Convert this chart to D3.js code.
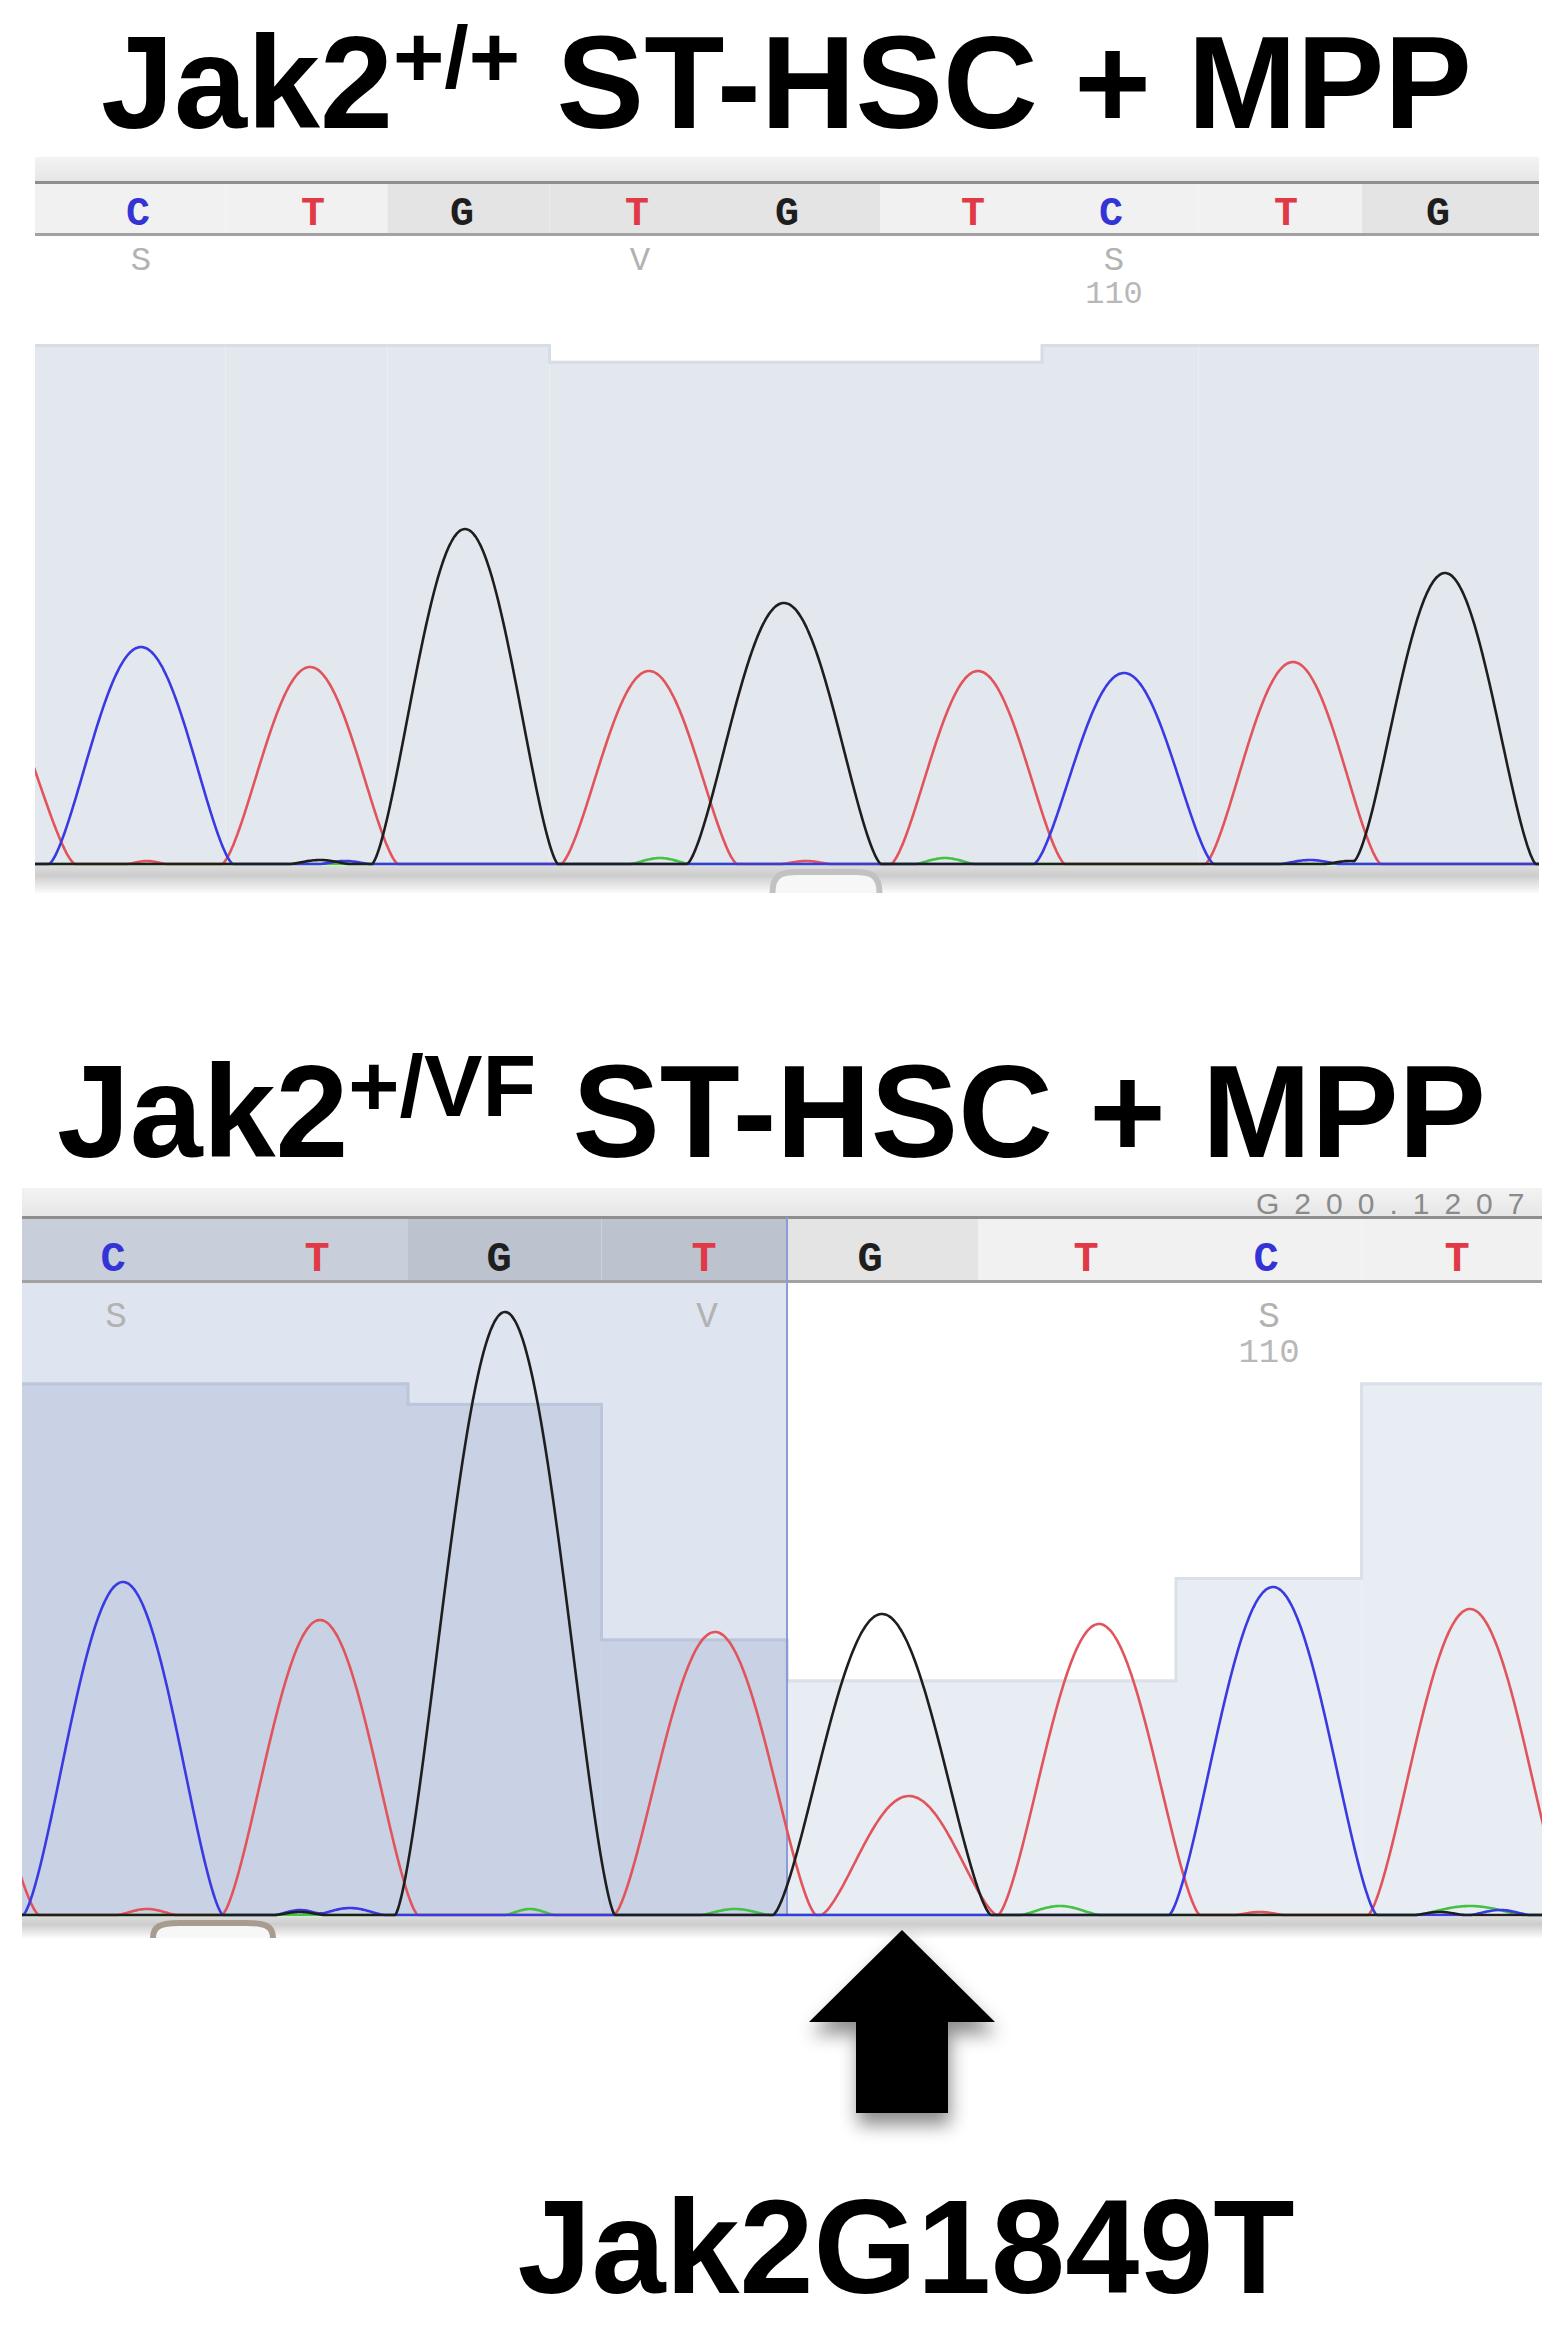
<!DOCTYPE html>
<html>
<head>
<meta charset="utf-8">
<script src="https://cdn.jsdelivr.net/npm/d3@7/dist/d3.min.js"></script>
<style>
html,body{margin:0;padding:0;background:#fff;}
svg{display:block;}
</style>
</head>
<body>
<svg id="chart" width="1542" height="2328" xmlns="http://www.w3.org/2000/svg"></svg>
<script>
// ---------------- DATA ----------------
const titleTopParts = ["Jak2", "+/+", " ST-HSC + MPP"];
const titleBotParts = ["Jak2", "+/VF", " ST-HSC + MPP"];
const mutationLabel = "Jak2G1849T";
const rulerText = "G200.1207";

// Jak2 +/+ trace: base calls, scan positions, ambiguity codes, quality
const topBases   = ["C","T","G","T","G","T","C","T","G"];
const topBaseScan = [138,313,462,637,787,973,1111,1286,1438];
const topAmbig   = ["S","","","V","","","S","",""];
const topNumber  = ["","","","","","","110","",""];
const topQuality = [62,62,62,60,60,60,62,62,62];
// peaks per channel: [scan position, intensity, half-width]
const topPeaksA = [[660,6,30],[945,6,30]];
const topPeaksC = [[141,217,92],[1124,191,90],[345,3,25],[1310,4,30]];
const topPeaksG = [[465,335,93],[784,261,97],[1445,291,91],[320,4,30],[1350,3,25]];
const topPeaksT = [[-17,182,92],[310,197,88],[649,193,88],[978,193,87],[1293,202,88],[147,3,20],[806,3,25]];

// Jak2 +/VF trace
const botBases   = ["C","T","G","T","G","T","C","T"];
const botBaseScan = [113,317,499,704,870,1086,1266,1457];
const botAmbig   = ["S","","","V","","","S",""];
const botNumber  = ["","","","","","","110",""];
const botQuality = [52,52,50,27,23,23,33,52];
const botSelected = [true,true,true,true,false,false,false,false];
const botPeaksA = [[530,6,25],[735,6,35],[1060,9,40],[1470,9,55]];
const botPeaksC = [[123,333,100],[1273,328,104],[300,5,25],[350,7,35],[1500,5,30]];
const botPeaksG = [[505,603,110],[882,301,109],[300,3,25],[1440,3,25]];
const botPeaksT = [[-61,243,100],[320,295,98],[715,283,101],[909,119,88],[1099,291,101],[1470,306,102],[147,6,30],[1260,3,25]];
const mutationScan = 902;

// ---------------- STYLE ----------------
const traceColor  = {A:"#44c244", C:"#3a3ae2", G:"#1e1e1e", T:"#e2545c"};
const letterColor = {A:"#2a9a2a", C:"#3434d6", G:"#1e1e1e", T:"#e03a46"};
const monoFont = "'Liberation Mono', 'Courier New', monospace";
const sansFont = "'Liberation Sans', Arial, Helvetica, sans-serif";
const peakExponent = 1.45;

const svg = d3.select("#chart");
svg.append("rect").attr("width",1542).attr("height",2328).attr("fill","#fff");

const defs = svg.append("defs");
const sg = defs.append("linearGradient").attr("id","stripGrad").attr("x1",0).attr("x2",0).attr("y1",0).attr("y2",1);
sg.append("stop").attr("offset","0%").attr("stop-color","#f3f3f3");
sg.append("stop").attr("offset","100%").attr("stop-color","#e6e6e6");
const bg = defs.append("linearGradient").attr("id","bandGrad").attr("x1",0).attr("x2",0).attr("y1",0).attr("y2",1);
bg.append("stop").attr("offset","0%").attr("stop-color","#dcdcdc");
bg.append("stop").attr("offset","35%").attr("stop-color","#cdcdcd");
bg.append("stop").attr("offset","100%").attr("stop-color","#fbfbfb");
const sh = defs.append("filter").attr("id","shadow").attr("x","-40%").attr("y","-40%").attr("width","180%").attr("height","180%");
sh.append("feDropShadow").attr("dx",2).attr("dy",12).attr("stdDeviation",9).attr("flood-color","#000").attr("flood-opacity",0.45);

const xScan = d3.scaleLinear().domain([0,1542]).range([0,1542]);

function kernel(d, h, w){
  const a = Math.abs(d);
  if (a >= w) return 0;
  return h * Math.pow(Math.cos(Math.PI * a / (2*w)), peakExponent);
}

function drawPanel(L, D, id){
  const g = svg.append("g");
  const x = xScan;
  const yI = d3.scaleLinear().domain([0, L.intMax]).range([L.baseline, L.baseline - L.intMax]);
  const yQ = d3.scaleLinear().domain([0, 62]).range([L.baseline, L.chromTop]);
  const n = D.bases.length;
  const bounds = [L.x0];
  for (let i = 1; i < n; i++) bounds.push(x((D.scan[i-1] + D.scan[i]) / 2));
  bounds.push(L.x1);
  const cells = D.bases.map((b,i) => ({
    b, i, x0: bounds[i], x1: bounds[i+1], cx: x(D.scan[i]), q: D.qual[i],
    sel: D.sel ? D.sel[i] : false, codon: Math.floor((i+1)/3) % 2,
    amb: D.amb[i], num: D.num[i]
  }));

  // header strip
  g.append("rect").attr("x",L.x0).attr("y",L.stripTop).attr("width",L.x1-L.x0).attr("height",L.stripBot-L.stripTop).attr("fill","url(#stripGrad)");
  // base row cells (codon shading)
  g.selectAll("rect.cell").data(cells).join("rect").attr("class","cell")
    .attr("x",c=>c.x0).attr("y",L.stripBot).attr("width",c=>c.x1-c.x0).attr("height",L.rowBot-L.stripBot)
    .attr("fill",c=> c.sel ? (c.codon ? "#bcc3cf" : "#c9cfda") : (c.codon ? "#e4e4e4" : "#f1f1f1"));
  g.append("rect").attr("x",L.x0).attr("y",L.stripBot-1).attr("width",L.x1-L.x0).attr("height",3).attr("fill","#8e8e8e");
  g.append("rect").attr("x",L.x0).attr("y",L.rowBot-1).attr("width",L.x1-L.x0).attr("height",3).attr("fill","#a2a2a2");

  // selection background
  const selCells = cells.filter(c=>c.sel);
  let selEnd = null;
  if (selCells.length){
    selEnd = d3.max(selCells, c=>c.x1);
    g.append("rect").attr("x",L.x0).attr("y",L.rowBot+2).attr("width",selEnd-L.x0).attr("height",L.baseline-L.rowBot-2).attr("fill","#dfe4f1");
  }
  // quality bars
  g.selectAll("rect.qual").data(cells).join("rect").attr("class","qual")
    .attr("x",c=>c.x0).attr("y",c=>yQ(c.q)).attr("width",c=>c.x1-c.x0).attr("height",c=>L.baseline-yQ(c.q))
    .attr("fill",c=> c.sel ? "#c9d2e4" : L.qualFill);
  g.selectAll("rect.qtop").data(cells).join("rect").attr("class","qtop")
    .attr("x",c=>c.x0).attr("y",c=>yQ(c.q)).attr("width",c=>c.x1-c.x0).attr("height",3)
    .attr("fill",c=> c.sel ? "#bcc6da" : L.qualEdge);
  for (let i = 1; i < n; i++){
    const a = yQ(cells[i-1].q), b = yQ(cells[i].q);
    if (Math.abs(a-b) > 1){
      g.append("rect").attr("x",cells[i].x0-1.5).attr("y",Math.min(a,b)).attr("width",3).attr("height",Math.abs(a-b)+3)
        .attr("fill", cells[i-1].sel || cells[i].sel ? "#bcc6da" : L.qualEdge);
    }
  }
  if (selEnd !== null){
    g.append("rect").attr("x",selEnd-1).attr("y",L.stripBot).attr("width",2).attr("height",L.baseline-L.stripBot).attr("fill","#8d9ad8");
  }

  // base letters
  g.selectAll("text.base").data(cells).join("text").attr("class","base")
    .attr("x",c=>c.cx).attr("y",L.letterY).attr("text-anchor","middle")
    .attr("font-family",monoFont).attr("font-weight","bold").attr("font-size",L.letterSize)
    .attr("fill",c=>letterColor[c.b]).text(c=>c.b);
  g.selectAll("text.amb").data(cells.filter(c=>c.amb)).join("text").attr("class","amb")
    .attr("x",c=>c.cx+3).attr("y",L.labelY).attr("text-anchor","middle")
    .attr("font-family",monoFont).attr("font-size",L.labelSize).attr("fill","#b2b2b2").text(c=>c.amb);
  g.selectAll("text.num").data(cells.filter(c=>c.num)).join("text").attr("class","num")
    .attr("x",c=>c.cx+3).attr("y",L.numY).attr("text-anchor","middle")
    .attr("font-family",monoFont).attr("font-size",L.labelSize-2).attr("fill","#b8b8b8").text(c=>c.num);

  // traces
  const clipId = "clip-" + id;
  defs.append("clipPath").attr("id",clipId).append("rect")
    .attr("x",L.x0).attr("y",L.rowBot).attr("width",L.x1-L.x0).attr("height",L.baseline-L.rowBot+3);
  const tg = g.append("g").attr("clip-path",`url(#${clipId})`);
  const line = d3.line().x(p=>x(p[0])).y(p=>yI(p[1])).curve(d3.curveMonotoneX);
  const scans = d3.range(x.invert(L.x0) - 2, x.invert(L.x1) + 3, 1.5);
  ["A","T","C","G"].forEach(ch=>{
    const peaks = D.peaks[ch];
    const pts = scans.map(s => [s, d3.sum(peaks, p => kernel(s - p[0], p[1], p[2]))]);
    tg.append("path").attr("d", line(pts)).attr("fill","none")
      .attr("stroke", traceColor[ch]).attr("stroke-width", 2.6).attr("stroke-linejoin","round");
  });

  // band below baseline + handle
  g.append("rect").attr("x",L.x0).attr("y",L.baseline+2).attr("width",L.x1-L.x0).attr("height",L.bandBot-L.baseline-2).attr("fill","url(#bandGrad)");
  const hx = L.handleX, hw = L.handleW/2, hy0 = L.baseline + 8, hy1 = L.bandBot;
  g.append("path")
    .attr("d",`M${hx-hw},${hy1} C${hx-hw},${hy0+3} ${hx-hw+8},${hy0} ${hx-hw+26},${hy0} L${hx+hw-26},${hy0} C${hx+hw-8},${hy0} ${hx+hw},${hy0+3} ${hx+hw},${hy1}`)
    .attr("fill","#f7f7f7").attr("stroke",L.handleStroke).attr("stroke-width",6);
  return {x, yI};
}

const topLayout = {x0:35, x1:1539, stripTop:157, stripBot:182, rowBot:234, chromTop:344, baseline:864, bandBot:893,
  intMax:520, letterSize:40, letterY:225, labelSize:34, labelY:270, numY:303, handleX:826, handleW:107,
  qualFill:"#e3e7ee", qualEdge:"#d7dce5", handleStroke:"#c2c2c2"};
const botLayout = {x0:22, x1:1542, stripTop:1188, stripBot:1217, rowBot:1281, chromTop:1280, baseline:1915, bandBot:1938,
  intMax:635, letterSize:42, letterY:1271, labelSize:36, labelY:1327, numY:1362, handleX:213, handleW:120,
  qualFill:"#e8ecf3", qualEdge:"#dadfe8", handleStroke:"#a89c90"};

drawPanel(topLayout, {bases:topBases, scan:topBaseScan, amb:topAmbig, num:topNumber, qual:topQuality,
  peaks:{A:topPeaksA, C:topPeaksC, G:topPeaksG, T:topPeaksT}}, "top");

const botScales = drawPanel(botLayout, {bases:botBases, scan:botBaseScan, amb:botAmbig, num:botNumber, qual:botQuality, sel:botSelected,
  peaks:{A:botPeaksA, C:botPeaksC, G:botPeaksG, T:botPeaksT}}, "bot");
// ruler text in the lower header strip (kept small so it stays inside the strip)
svg.append("text").attr("x",1256).attr("y",1213.5)
  .attr("font-family",sansFont).attr("font-size",30).attr("letter-spacing",15)
  .attr("fill","#8a8a8a").text(rulerText);

// ---------------- TITLES ----------------
function drawTitle(parts, xStart, baseY, targetW, size){
  const t = svg.append("text").attr("x",xStart).attr("y",baseY)
    .attr("font-family",sansFont).attr("font-weight","bold").attr("fill","#000")
    .style("white-space","pre");
  const a = t.append("tspan").text(parts[0]);
  const b = t.append("tspan").text(parts[1]);
  const c = t.append("tspan").text(parts[2]);
  function apply(s){
    a.attr("font-size",s);
    b.attr("font-size",s*0.67).attr("dy",-0.315*s);
    c.attr("font-size",s).attr("dy",0.315*s);
  }
  apply(size);
  const w = t.node().getComputedTextLength();
  if (w > 0) apply(size * targetW / w);
}
drawTitle(titleTopParts, 101, 128, 1371, 130);
drawTitle(titleBotParts, 57, 1157, 1429, 130);

// ---------------- ARROW + LABEL ----------------
const ax = botScales.x(mutationScan);
const tipY = 1930, headY = 2022, tailY = 2113, headHW = 93, shaftHW = 46;
svg.append("polygon")
  .attr("points", [[ax,tipY],[ax+headHW,headY],[ax+shaftHW,headY],[ax+shaftHW,tailY],[ax-shaftHW,tailY],[ax-shaftHW,headY],[ax-headHW,headY]].map(p=>p.join(",")).join(" "))
  .attr("fill","#000").attr("filter","url(#shadow)");

const ml = svg.append("text").attr("x",ax+4).attr("y",2293).attr("text-anchor","middle")
  .attr("font-family",sansFont).attr("font-weight","bold").attr("font-size",133).attr("fill","#000").text(mutationLabel);
const mw = ml.node().getComputedTextLength();
if (mw > 0) ml.attr("font-size", 133 * 777 / mw);
</script>
</body>
</html>
